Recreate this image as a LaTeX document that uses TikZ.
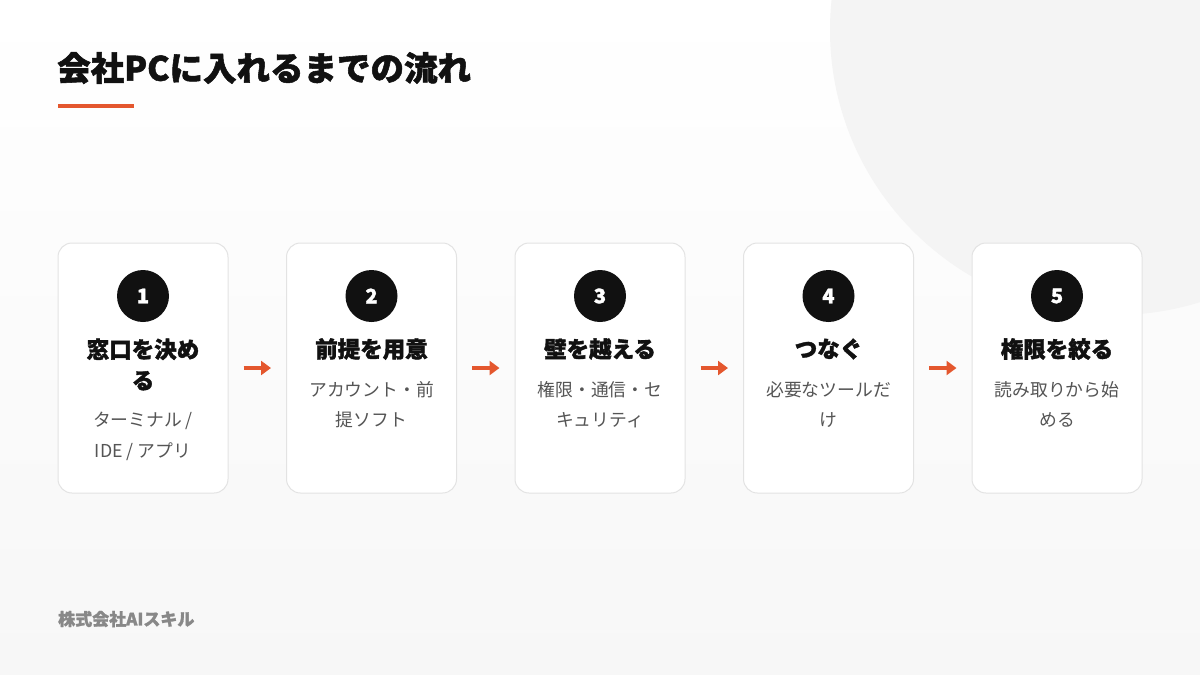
\documentclass[tikz,border=0pt]{standalone}
\usepackage{fontspec}
\setmainfont{Noto Sans CJK JP}[BoldFeatures={FakeBold=1.6}]
\usetikzlibrary{arrows.meta}
\definecolor{accent}{HTML}{E4572E}
\definecolor{ink}{HTML}{111111}
\definecolor{subgray}{HTML}{555555}
\definecolor{cardline}{HTML}{E3E3E3}
\definecolor{blob}{HTML}{F4F4F4}
\definecolor{footgray}{HTML}{888888}
\definecolor{bgbottom}{HTML}{F7F7F7}
\begin{document}
\begin{tikzpicture}[x=1pt,y=-1pt,
  card/.style={draw=cardline, line width=1pt, fill=white, rounded corners=14pt,
    minimum width=170pt, minimum height=250pt, inner sep=0pt},
  num/.style={circle, fill=ink, minimum size=52pt, inner sep=0pt, text=white,
    font=\fontsize{20}{20}\selectfont\bfseries},
  ttl/.style={inner sep=0pt, align=center, text=ink,
    font=\fontsize{22.5}{31}\selectfont\bfseries},
  sub/.style={inner sep=0pt, align=center, text=subgray,
    font=\fontsize{17.8}{30.5}\selectfont},
  arr/.style={draw=accent, line width=3.5pt, -{Triangle[length=10pt,width=14pt]},
    shorten <=15pt, shorten >=15pt}]
% background
\useasboundingbox (0,0) rectangle (1200,675);
\shade[top color=white, bottom color=bgbottom] (0,0) rectangle (1200,675);
\begin{scope}
  \clip (0,0) rectangle (1200,675);
  \fill[blob] (1115,30) circle[radius=285];
\end{scope}
% title
\node[anchor=west, inner sep=0pt, text=ink, font=\fontsize{33.5}{33.5}\selectfont\bfseries] (title) at (57,68) {会社PCに入れるまでの流れ};
\fill[accent] (58,104) rectangle (134,107.5);
% cards
\node[card] (c1) at (143,368) {};
\node[card] (c2) at (371.5,368) {};
\node[card] (c3) at (600,368) {};
\node[card] (c4) at (828.5,368) {};
\node[card] (c5) at (1057,368) {};
% numbers
\node[num] (n1) at (143,296) {1};
\node[num] (n2) at (371.5,296) {2};
\node[num] (n3) at (600,296) {3};
\node[num] (n4) at (828.5,296) {4};
\node[num] (n5) at (1057,296) {5};
% titles
\node[ttl] (t1) at (143,364.5) {窓口を決め\\る};
\node[ttl] (t2) at (371.5,349) {前提を用意};
\node[ttl] (t3) at (600,349) {壁を越える};
\node[ttl] (t4) at (828.5,349) {つなぐ};
\node[ttl] (t5) at (1057,349) {権限を絞る};
% subtitles
\node[sub] (s1) at (143,436.5) {ターミナル /\\IDE / アプリ};
\node[sub] (s2) at (371.5,404.5) {アカウント・前\\提ソフト};
\node[sub] (s3) at (600,404.5) {権限・通信・セ\\キュリティ};
\node[sub] (s4) at (828.5,404.5) {必要なツールだ\\け};
\node[sub] (s5) at (1057,404.5) {読み取りから始\\める};
% arrows
\draw[arr] (c1.east) -- (c2.west);
\draw[arr] (c2.east) -- (c3.west);
\draw[arr] (c3.east) -- (c4.west);
\draw[arr] (c4.east) -- (c5.west);
% footer
\node[anchor=west, inner sep=0pt, text=footgray, font=\fontsize{17}{17}\selectfont\bfseries] (foot) at (58,619) {株式会社AIスキル};
\end{tikzpicture}
\end{document}
